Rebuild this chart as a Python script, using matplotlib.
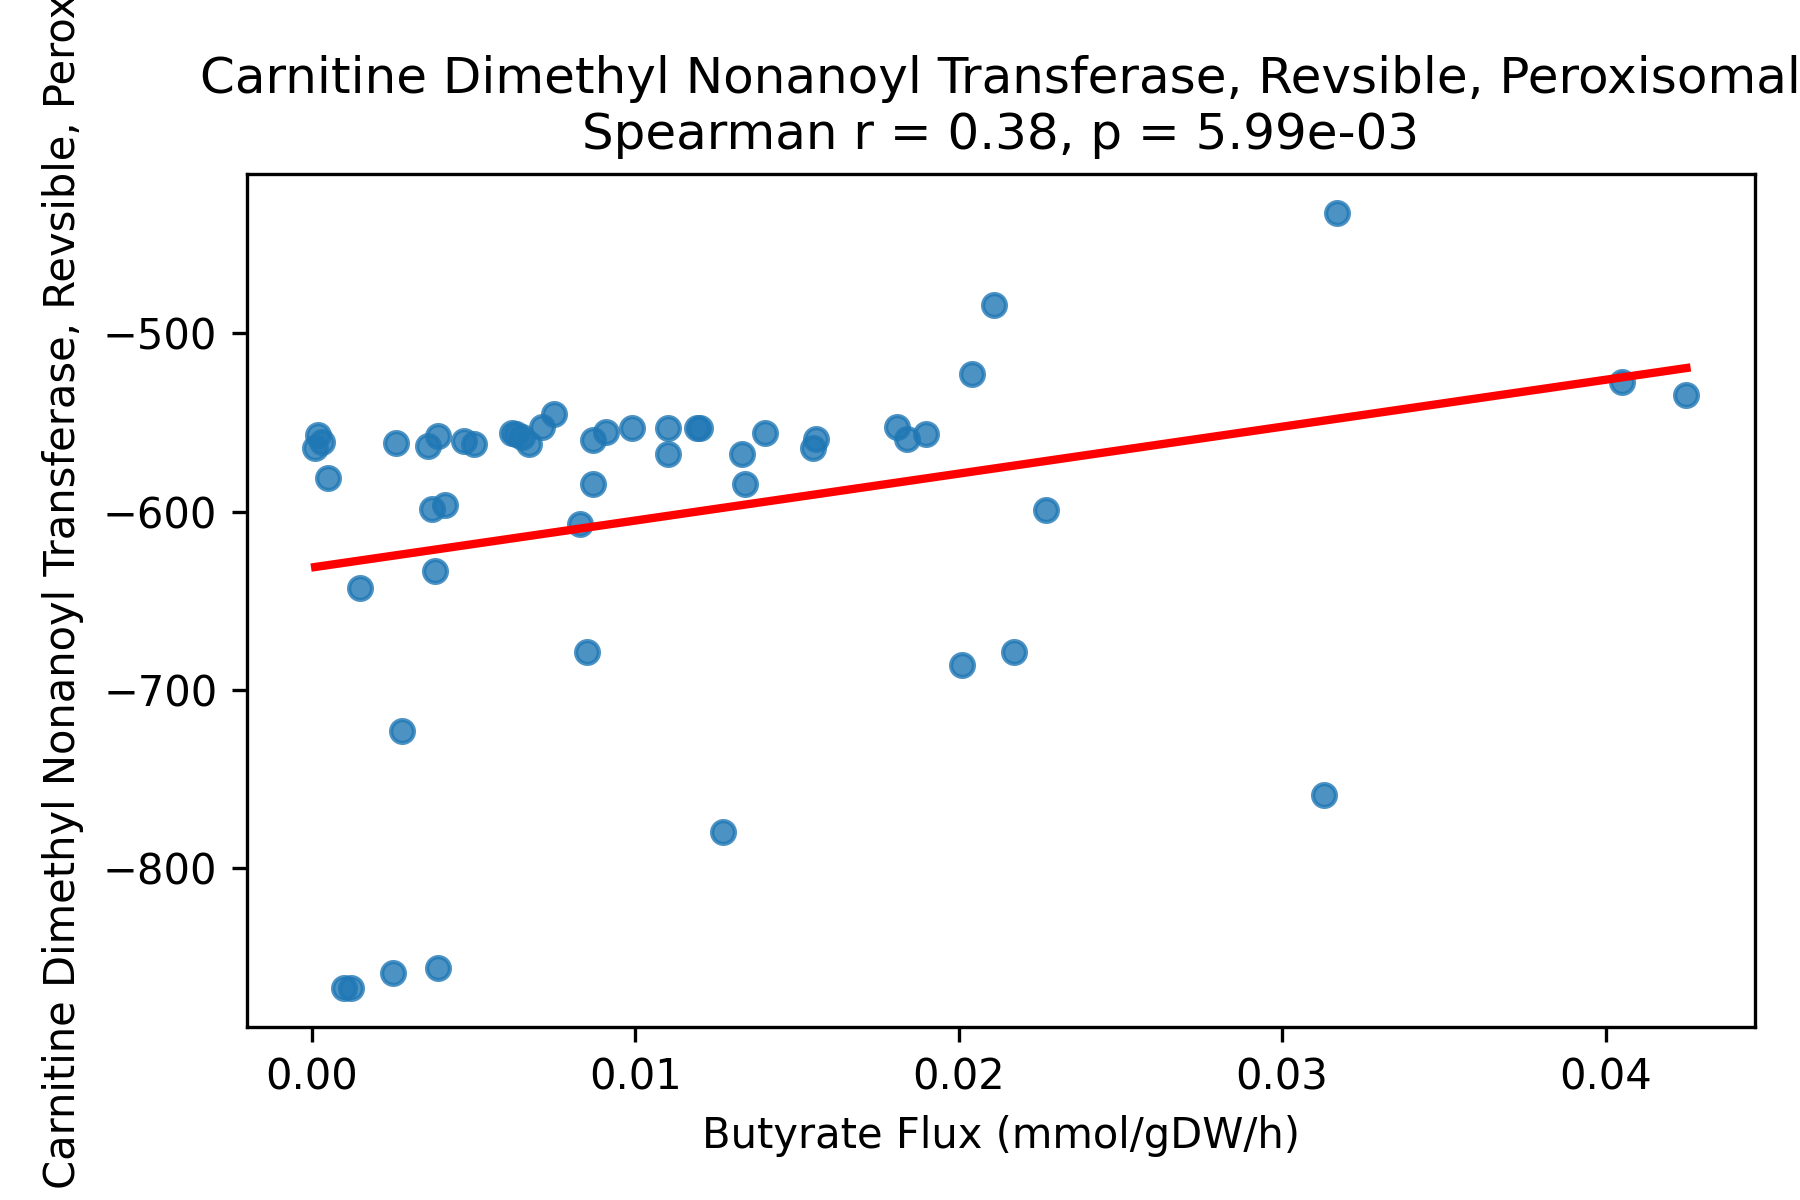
import numpy as np
from matplotlib import pyplot as plt

# Butyrate flux vs reaction flux
butyrate_flux = [0.00018, 0.0001, 0.0003, 0.0005, 0.0015, 0.0010, 0.0012,
                 0.0026, 0.0025, 0.0028, 0.0036, 0.0039, 0.0037, 0.0041,
                 0.0038, 0.0039, 0.0047, 0.0050, 0.0062, 0.0063, 0.0065,
                 0.0067, 0.0071, 0.0075, 0.0083, 0.0085, 0.0087, 0.0087,
                 0.0091, 0.0099, 0.0110, 0.0110, 0.0119, 0.0120, 0.0127,
                 0.0133, 0.0134, 0.0140, 0.0155, 0.0156, 0.0181, 0.0184,
                 0.0190, 0.0201, 0.0204, 0.0211, 0.0217, 0.0227, 0.0313,
                 0.0317, 0.0405, 0.0425]
carnitine_flux = [-557.0, -564.2, -561.0, -581.0, -643.0, -867.5, -867.5,
                  -561.5, -859.0, -723.0, -563.0, -557.7, -598.4, -596.5,
                  -633.3, -856.0, -560.3, -562.2, -555.7, -556.4, -558.3,
                  -562.2, -552.5, -545.4, -606.8, -679.0, -559.6, -584.2,
                  -555.1, -553.2, -553.2, -567.4, -553.2, -553.2, -780.0,
                  -567.4, -584.2, -555.7, -564.2, -559.0, -552.5, -559.0,
                  -556.4, -686.3, -522.8, -484.0, -678.5, -599.1, -758.7,
                  -432.3, -527.3, -534.4]

reaction_name = "Carnitine Dimethyl Nonanoyl Transferase, Revsible, Peroxisomal"
spearman_r = 0.38
p_value = 5.99e-03


def main():
	x = np.array(butyrate_flux)
	y = np.array(carnitine_flux)

	fig, ax = plt.subplots(figsize=(6, 4), dpi=300)
	fig.subplots_adjust(left=0.137, right=0.975, top=0.855, bottom=0.144)

	ax.scatter(x, y, color='C0', alpha=0.8, s=30)

	# least squares line
	slope, intercept = np.polyfit(x, y, 1)
	xs = np.array([x.min(), x.max()])
	ax.plot(xs, slope * xs + intercept, color='red', linewidth=2)

	ax.set_title("{}\nSpearman r = {:.2f}, p = {:.2e}".format(reaction_name, spearman_r, p_value), fontsize=12)
	ax.set_xlabel("Butyrate Flux (mmol/gDW/h)")
	# the label is longer than the axes, it runs off the top like in the original
	ax.set_ylabel(reaction_name, loc='bottom')
	ax.yaxis.set_label_coords(-0.108, -0.19)

	fig.savefig('out.png', dpi=300)


if __name__ == '__main__':
	main()
